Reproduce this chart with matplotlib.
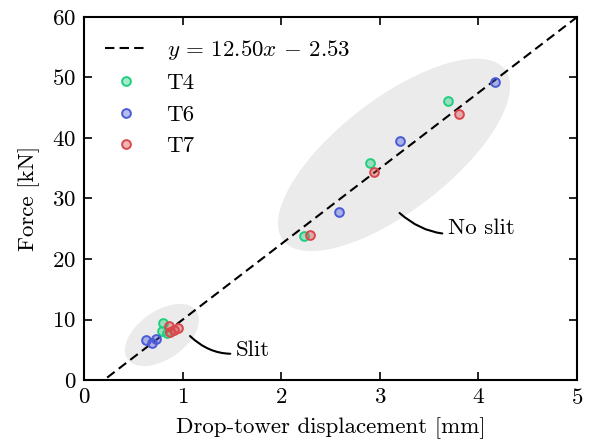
import numpy as np
import matplotlib
matplotlib.use('Agg')
import matplotlib.pyplot as plt
from matplotlib.patches import Ellipse
from matplotlib.transforms import Affine2D

plt.rcParams['font.family'] = 'serif'
plt.rcParams['font.serif'] = ['cmr10']
plt.rcParams['mathtext.fontset'] = 'cm'
plt.rcParams['axes.formatter.use_mathtext'] = True
plt.rcParams['font.size'] = 16.5

# Datos (desplazamiento [mm], fuerza [kN])
t4_x = [0.80, 0.79, 0.84, 2.23, 2.90, 3.69]
t4_y = [9.5, 8.1, 7.7, 23.8, 35.8, 46.1]
t6_x = [0.63, 0.69, 0.73, 2.59, 3.20, 4.17]
t6_y = [6.6, 6.2, 6.7, 27.7, 39.5, 49.3]
t7_x = [0.86, 0.87, 0.91, 0.95, 2.29, 2.94, 3.80]
t7_y = [9.0, 8.0, 8.2, 8.6, 24.0, 34.3, 43.9]

pendiente = 12.50
intercepto = -2.53

fig = plt.figure(figsize=(5.9, 4.45), dpi=100)
ax = fig.add_axes([0.1424, 0.146, 0.8356, 0.816])
ax.set_xlim(0, 5)
ax.set_ylim(0, 60)

# escala para dibujar elipses con aspecto "visual" correcto
bb = ax.get_window_extent()
k = (bb.width / 5) / (bb.height / 60)  # unidades de y por unidad de x en pantalla


def elipse(cx, cy, a, b, ang):
    e = Ellipse((cx, cy / k), 2 * a, 2 * b, angle=ang, facecolor='#ebebeb',
                edgecolor='none', zorder=0,
                transform=Affine2D().scale(1, k) + ax.transData)
    ax.add_patch(e)


elipse(3.144, 37.2, 140 / 98.6, 56 / 98.6, 37.6)
elipse(0.79, 7.44, 42 / 98.6, 24 / 98.6, 35)

xs = np.linspace(0, 5, 100)
ax.plot(xs, pendiente * xs + intercepto, 'k--', lw=1.5, dashes=(4.5, 2.5),
        label=r'$y \,=\, 12.50x \,-\, 2.53$', zorder=1)

verde = '#1fcf7e'
azul = '#4a5ad8'
rojo = '#d9474b'
for x, y, c, lab in [(t4_x, t4_y, verde, 'T4'), (t6_x, t6_y, azul, 'T6'),
                     (t7_x, t7_y, rojo, 'T7')]:
    ax.plot(x, y, 'o', ls='none', ms=6.3, mew=1.4, mec=c,
            mfc=matplotlib.colors.to_rgba(c, 0.4), label=lab, zorder=3)

ax.annotate('No slit', xy=(3.20, 27.6), xytext=(3.69, 25.1),
            va='center', ha='left',
            arrowprops=dict(arrowstyle='-', color='k', lw=1.5,
                            connectionstyle='arc3,rad=-0.3', shrinkA=2, shrinkB=0))
ax.annotate('Slit', xy=(1.075, 7.27), xytext=(1.54, 4.96),
            va='center', ha='left',
            arrowprops=dict(arrowstyle='-', color='k', lw=1.5,
                            connectionstyle='arc3,rad=-0.3', shrinkA=2, shrinkB=0))

ax.set_xlabel('Drop-tower displacement [mm]', labelpad=7)
ax.set_ylabel('Force [kN]', labelpad=9)
ax.set_xticks([0, 1, 2, 3, 4, 5])
ax.set_yticks([0, 10, 20, 30, 40, 50, 60])
ax.tick_params(direction='in', top=True, right=True, length=6, width=1.2, pad=5.5)
for s in ax.spines.values():
    s.set_linewidth(1.5)

ax.legend(loc='upper left', frameon=False, handlelength=1.9, borderaxespad=0.5)

fig.savefig('out.png', dpi=100)
